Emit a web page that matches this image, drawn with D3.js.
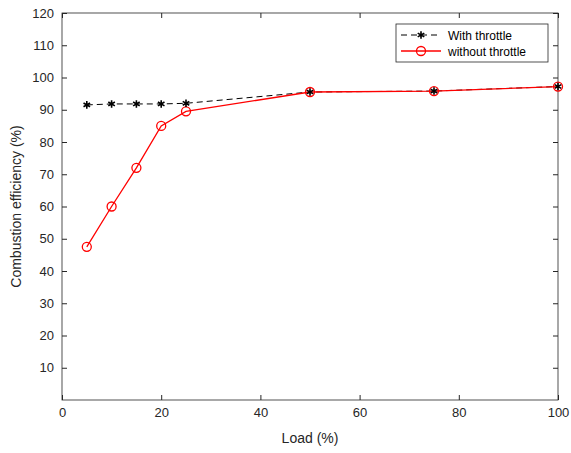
<!DOCTYPE html>
<html><head><meta charset="utf-8">
<script src="https://cdn.jsdelivr.net/npm/d3@7"></script>
<style>body{margin:0;background:#fff}text{font-family:Arial,"Liberation Sans",sans-serif}</style>
</head><body><svg id="c" width="571" height="453"></svg>
<script>
var loads = [5, 10, 15, 20, 25, 50, 75, 100];
var withThrottle = [91.5, 91.8, 91.8, 91.8, 92, 95.5, 95.8, 97.2];
var withoutThrottle = [47.5, 60, 72, 85, 89.5, 95.5, 95.8, 97.2];
var xTicks = [0, 20, 40, 60, 80, 100];
var yTicks = [10, 20, 30, 40, 50, 60, 70, 80, 90, 100, 110, 120];

var svg = d3.select('#c');
var m = {l: 62, r: 13, t: 13, b: 53};
var w = 571 - m.l - m.r, h = 453 - m.t - m.b;
var x = d3.scaleLinear().domain([0, 100]).range([m.l, m.l + w]);
var y = d3.scaleLinear().domain([0, 120]).range([m.t + h, m.t]);

svg.append('rect').attr('x', m.l).attr('y', m.t).attr('width', w).attr('height', h)
    .attr('fill', 'none').attr('stroke', '#262626').attr('stroke-width', 0.8);

var gx = svg.append('g').attr('transform', 'translate(0,' + (m.t + h) + ')')
    .call(d3.axisBottom(x).tickValues(xTicks).tickSize(-5).tickPadding(8));
var gy = svg.append('g').attr('transform', 'translate(' + m.l + ',0)')
    .call(d3.axisLeft(y).tickValues(yTicks).tickSize(-5).tickPadding(8));
svg.append('g').attr('transform', 'translate(0,' + m.t + ')')
    .call(d3.axisTop(x).tickValues(xTicks).tickSize(-5).tickFormat(''));
svg.append('g').attr('transform', 'translate(' + (m.l + w) + ',0)')
    .call(d3.axisRight(y).tickValues(yTicks).tickSize(-5).tickFormat(''));
svg.selectAll('.domain').remove();
svg.selectAll('.tick line').attr('stroke', '#262626');
svg.selectAll('.tick text').attr('font-size', 13).attr('fill', '#262626');

svg.append('text').attr('x', m.l + w / 2).attr('y', 443).attr('text-anchor', 'middle')
    .attr('font-size', 14).attr('fill', '#262626').text('Load (%)');
svg.append('text').attr('transform', 'translate(21,' + (m.t + h / 2) + ') rotate(-90)')
    .attr('text-anchor', 'middle').attr('font-size', 14).attr('fill', '#262626')
    .text('Combustion efficiency (%)');

var line = d3.line().x(function(d) { return x(d[0]); }).y(function(d) { return y(d[1]); });
var star = d3.symbol().type(d3.symbolAsterisk).size(40);
function drawStar(g, px, py) {
    g.append('path').attr('d', star).attr('transform', 'translate(' + px + ',' + py + ')')
        .attr('stroke', '#000').attr('stroke-width', 1.6).attr('fill', 'none');
}

var d1 = loads.map(function(l, i) { return [l, withThrottle[i]]; });
var d2 = loads.map(function(l, i) { return [l, withoutThrottle[i]]; });

svg.append('path').datum(d1).attr('d', line).attr('fill', 'none')
    .attr('stroke', '#000').attr('stroke-width', 1).attr('stroke-dasharray', '6,4');
svg.append('path').datum(d2).attr('d', line).attr('fill', 'none')
    .attr('stroke', '#ff0000').attr('stroke-width', 1.3);
d2.forEach(function(d) {
    svg.append('circle').attr('cx', x(d[0])).attr('cy', y(d[1])).attr('r', 4.5)
        .attr('fill', 'none').attr('stroke', '#ff0000').attr('stroke-width', 1.3);
});
d1.forEach(function(d) { drawStar(svg, x(d[0]), y(d[1])); });

// legend
var lg = svg.append('g').attr('transform', 'translate(396,24)');
lg.append('rect').attr('width', 152).attr('height', 38).attr('fill', '#fff')
    .attr('stroke', '#262626').attr('stroke-width', 0.8);
lg.append('line').attr('x1', 5).attr('x2', 45).attr('y1', 11).attr('y2', 11)
    .attr('stroke', '#000').attr('stroke-dasharray', '6,4');
drawStar(lg, 25, 11);
lg.append('text').attr('x', 52).attr('y', 15.5).attr('font-size', 12).attr('fill', '#000').text('With throttle');
lg.append('line').attr('x1', 5).attr('x2', 45).attr('y1', 27).attr('y2', 27)
    .attr('stroke', '#ff0000').attr('stroke-width', 1.3);
lg.append('circle').attr('cx', 25).attr('cy', 27).attr('r', 4.5).attr('fill', 'none')
    .attr('stroke', '#ff0000').attr('stroke-width', 1.3);
lg.append('text').attr('x', 52).attr('y', 31.5).attr('font-size', 12).attr('fill', '#000').text('without throttle');
</script></body></html>
